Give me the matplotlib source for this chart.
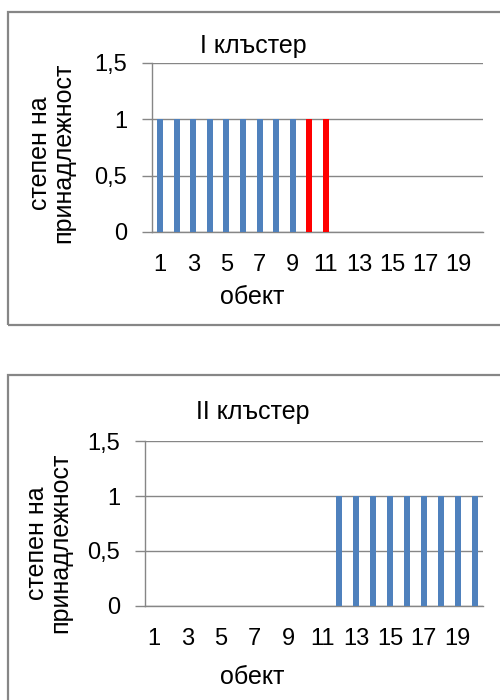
import numpy as np
import matplotlib
matplotlib.use("Agg")
import matplotlib.pyplot as plt
from matplotlib.patches import Rectangle

plt.rcParams['font.family'] = ['Liberation Sans', 'DejaVu Sans']

objects = list(range(1, 21))
cluster1 = [1, 1, 1, 1, 1, 1, 1, 1, 1, 1, 1, 0, 0, 0, 0, 0, 0, 0, 0, 0]
cluster2 = [0, 0, 0, 0, 0, 0, 0, 0, 0, 0, 0, 1, 1, 1, 1, 1, 1, 1, 1, 1]
highlight1 = [10, 11]   # objects drawn in red on the first chart
titles = ['I клъстер', 'II клъстер']
ylabel = 'степен на\nпринадлежност'
xlabel = 'обект'
yticks = [0, 0.5, 1, 1.5]
ytick_labels = ['0', '0,5', '1', '1,5']

blue = '#4f81bd'
red = '#ff0000'
grid = '#868686'
W, H = 500, 700

fig = plt.figure(figsize=(5, 7), dpi=100)

def px(l, t, r, b):
    return [l / W, 1 - b / H, (r - l) / W, (b - t) / H]

# panel frames (gray outline like the Excel chart area)
fig.patches.append(Rectangle((8 / W, 1 - 325 / H), 600 / W, 313 / H, transform=fig.transFigure,
                             fill=False, edgecolor=grid, linewidth=1.6))
fig.patches.append(Rectangle((8 / W, -0.1), 600 / W, 1 - 375 / H + 0.1, transform=fig.transFigure,
                             fill=False, edgecolor=grid, linewidth=1.6))

panels = [
    dict(box=(152, 63, 483, 232), vals=cluster1, title_y=46, ylab=(52, 153), xlab_y=297),
    dict(box=(145, 441, 483, 606), vals=cluster2, title_y=412, ylab=(49, 543), xlab_y=677),
]

for i, p in enumerate(panels):
    ax = fig.add_axes(px(*p['box']))
    colors = [red if (i == 0 and o in highlight1) else blue for o in objects]
    ax.bar(objects, p['vals'], width=0.36, color=colors, zorder=3)
    ax.set_xlim(0.5, 20.5)
    ax.set_ylim(0, 1.5)
    ax.set_yticks(yticks)
    ax.set_yticklabels(ytick_labels)
    ax.set_xticks(objects)
    ax.set_xticklabels([str(o) if o % 2 else '' for o in objects])
    ax.tick_params(axis='x', length=0, pad=16, labelsize=17)
    ax.tick_params(axis='y', length=7, width=1, color=grid, pad=11, labelsize=17)
    ax.grid(axis='y', color=grid, linewidth=1, zorder=0)
    for s in ['top', 'right']:
        ax.spines[s].set_visible(False)
    for s in ['left', 'bottom']:
        ax.spines[s].set_color(grid)
        ax.spines[s].set_linewidth(1)
    fig.text(253 / W, 1 - p['title_y'] / H, titles[i], ha='center', va='center', fontsize=18)
    fig.text(p['ylab'][0] / W, 1 - p['ylab'][1] / H, ylabel, rotation=90, ha='center', va='center',
             fontsize=18, linespacing=0.95)
    fig.text(252 / W, 1 - p['xlab_y'] / H, xlabel, ha='center', va='center', fontsize=18)

fig.savefig('out.png', dpi=100)
